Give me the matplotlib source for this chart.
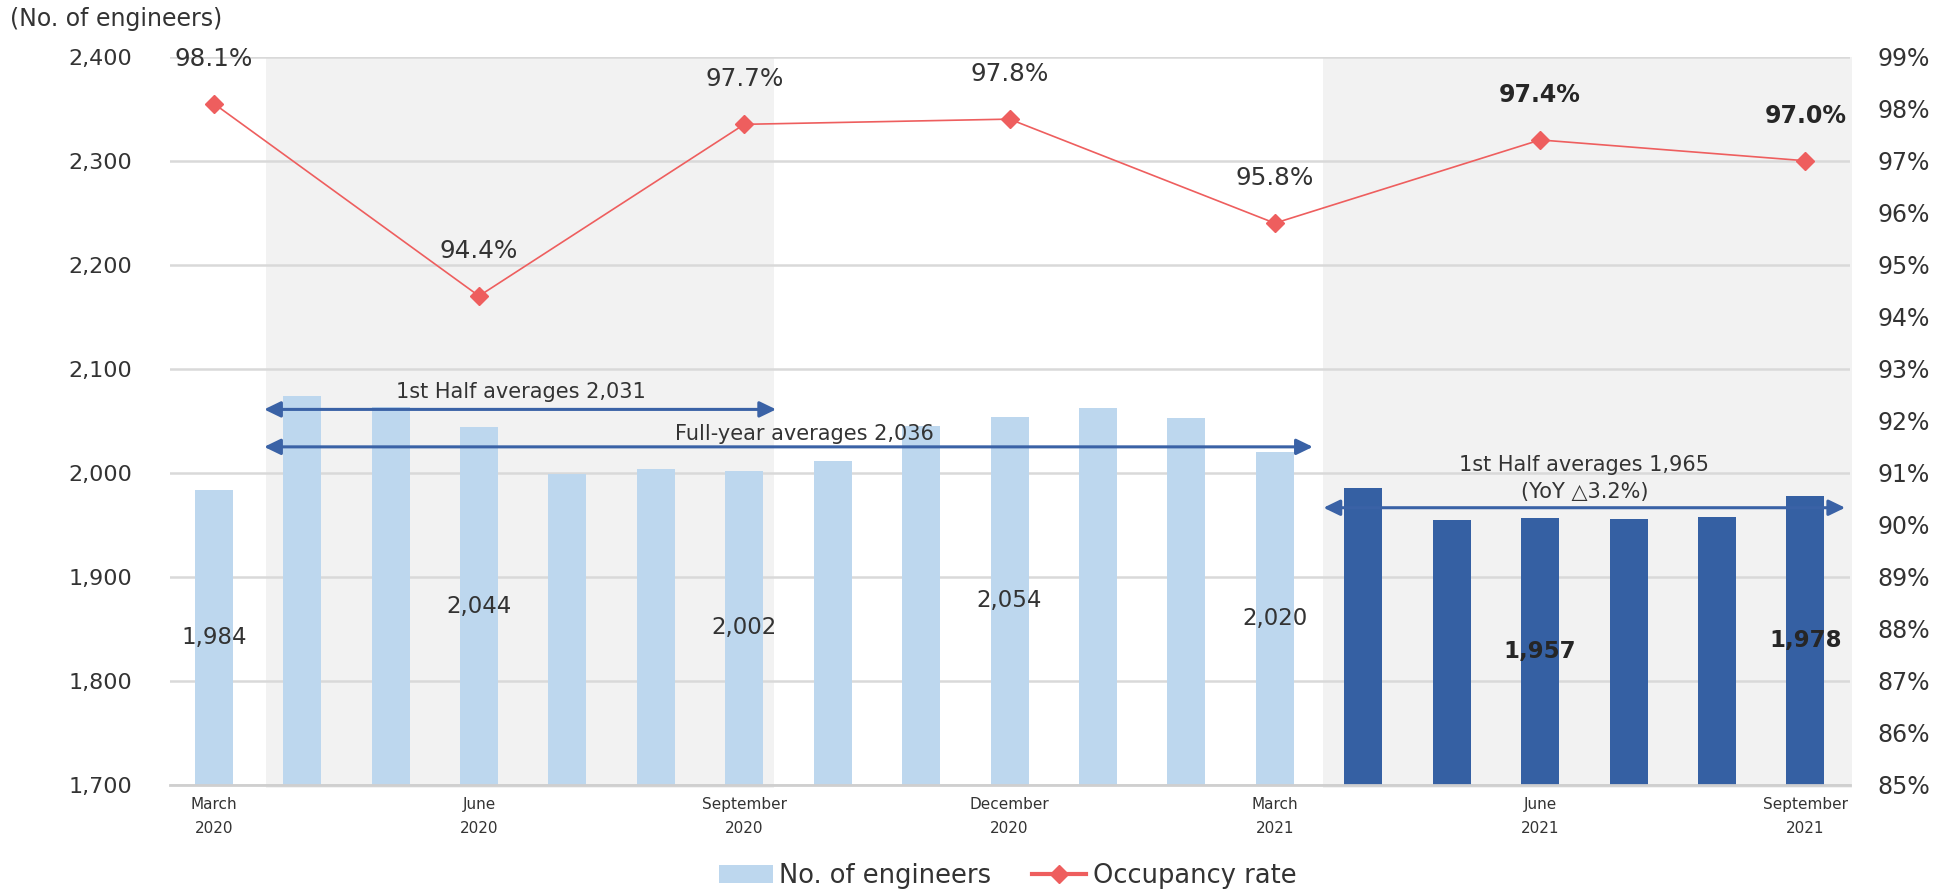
import matplotlib

matplotlib.use('Agg')
import matplotlib.pyplot as plt
from matplotlib.patches import Rectangle
from matplotlib.lines import Line2D
from matplotlib.patches import Patch

# monthly headcount, March 2020 .. September 2021
months = ['Mar 2020', 'Apr 2020', 'May 2020', 'Jun 2020', 'Jul 2020', 'Aug 2020',
          'Sep 2020', 'Oct 2020', 'Nov 2020', 'Dec 2020', 'Jan 2021', 'Feb 2021',
          'Mar 2021', 'Apr 2021', 'May 2021', 'Jun 2021', 'Jul 2021', 'Aug 2021',
          'Sep 2021']
engineers = [1984, 2074, 2063, 2044, 1999, 2004, 2002, 2011, 2045, 2054, 2062,
             2053, 2020, 1985, 1955, 1957, 1956, 1958, 1978]

# quarter-end points (index into months)
quarter_idx = [0, 3, 6, 9, 12, 15, 18]
quarter_labels = ['March\n2020', 'June\n2020', 'September\n2020', 'December\n2020',
                  'March\n2021', 'June\n2021', 'September\n2021']
occupancy = [98.1, 94.4, 97.7, 97.8, 95.8, 97.4, 97.0]

LIGHT = '#BDD7EE'
DARK = '#3560A3'
RED = '#EE5E5E'
SHADE = '#F2F2F2'
GRID = '#D9D9D9'
TXT = '#333333'
ARROW = '#3A62A6'

fig = plt.figure(figsize=(19.47, 8.9), dpi=100)
ax = fig.add_axes([0.08706, 0.11798, 0.86291, 0.81831])
ax2 = ax.twinx()

x = list(range(len(months)))
colors = [LIGHT if i <= 12 else DARK for i in x]
ax.bar(x, [v - 1700 for v in engineers], bottom=1700, width=0.43,
       color=colors, zorder=2)

# shaded half-year periods
for x0, x1 in [(0.59, 6.34), (12.55, 18.53)]:
    ax.add_patch(Rectangle((x0, 1697), x1 - x0, 703, facecolor=SHADE,
                           edgecolor='none', zorder=0.2, clip_on=False))

ax.set_xlim(-0.5, 18.5)
ax.set_ylim(1700, 2400)
ax.set_yticks(range(1700, 2401, 100))
ax.set_yticklabels([f'{v:,}' for v in range(1700, 2401, 100)])
ax.yaxis.grid(True, color=GRID, lw=1.8, zorder=0.5)
ax.set_axisbelow(True)
for s in ['top', 'left', 'right']:
    ax.spines[s].set_visible(False)
ax.spines['bottom'].set_color('#CFCFCF')
ax.spines['bottom'].set_linewidth(2)
ax.tick_params(axis='y', length=0, pad=27, labelsize=16, labelcolor=TXT)
ax.set_xticks(quarter_idx)
ax.set_xticklabels(quarter_labels, fontsize=11, color=TXT, linespacing=1.7)
ax.tick_params(axis='x', length=0, pad=9)

# bar value labels at quarter ends
for i in quarter_idx:
    v = engineers[i]
    ax.text(i, (1700 + v) / 2, f'{v:,}', ha='center', va='center', fontsize=16.5,
            color='#262626' if i > 12 else TXT,
            fontweight='bold' if i > 12 else 'normal', zorder=5)

# average arrows
arrow_kw = dict(arrowstyle='<|-|>,head_length=0.62,head_width=0.3', color=ARROW,
                lw=2.2, shrinkA=0, shrinkB=0, mutation_scale=16)
for x0, x1, y in [(0.57, 6.36, 2061), (0.57, 12.43, 2025), (12.55, 18.45, 1966.5)]:
    ax.annotate('', xy=(x1, y), xytext=(x0, y), arrowprops=arrow_kw, zorder=4)
note_kw = dict(ha='center', va='center', fontsize=15, color=TXT, zorder=5)
ax.text(3.47, 2078, '1st Half averages 2,031', **note_kw)
ax.text(6.68, 2037, 'Full-year averages 2,036', **note_kw)
ax.text(15.5, 2008, '1st Half averages 1,965', **note_kw)
ax.text(15.5, 1982, '(YoY \u25b33.2%)', **note_kw)

# occupancy rate line
ax2.plot(quarter_idx, occupancy, color=RED, lw=1.2, marker='D', markersize=9.5,
         zorder=3)
ax2.set_ylim(85, 99)
ax2.set_yticks(range(85, 100))
ax2.set_yticklabels([f'{v}%' for v in range(85, 100)])
ax2.tick_params(axis='y', length=0, pad=20, labelsize=17, labelcolor=TXT)
for s in ax2.spines.values():
    s.set_visible(False)
for i, r in zip(quarter_idx, occupancy):
    bold = i > 12
    ax2.annotate(f'{r:.1f}%', (i, r), xytext=(0, 32.4), textcoords='offset points',
                 ha='center', va='center', fontsize=17 if bold else 17.8,
                 color='#262626' if bold else TXT,
                 fontweight='bold' if bold else 'normal', annotation_clip=False)

fig.text(10 / 1947, 1 - 18.6 / 890, '(No. of engineers)', ha='left', va='center',
         fontsize=17, color=TXT)

handles = [Patch(facecolor=LIGHT, edgecolor='none'),
           Line2D([], [], color=RED, lw=3, marker='D', markersize=9)]
fig.legend(handles, ['No. of engineers', 'Occupancy rate'], loc='center',
           bbox_to_anchor=(0.5175, 0.016), ncol=2, frameon=False, fontsize=18.5,
           handlelength=2.1, handletextpad=0.25, columnspacing=1.6,
           labelcolor=TXT)

fig.savefig('out.png', dpi=100)
plt.close(fig)
